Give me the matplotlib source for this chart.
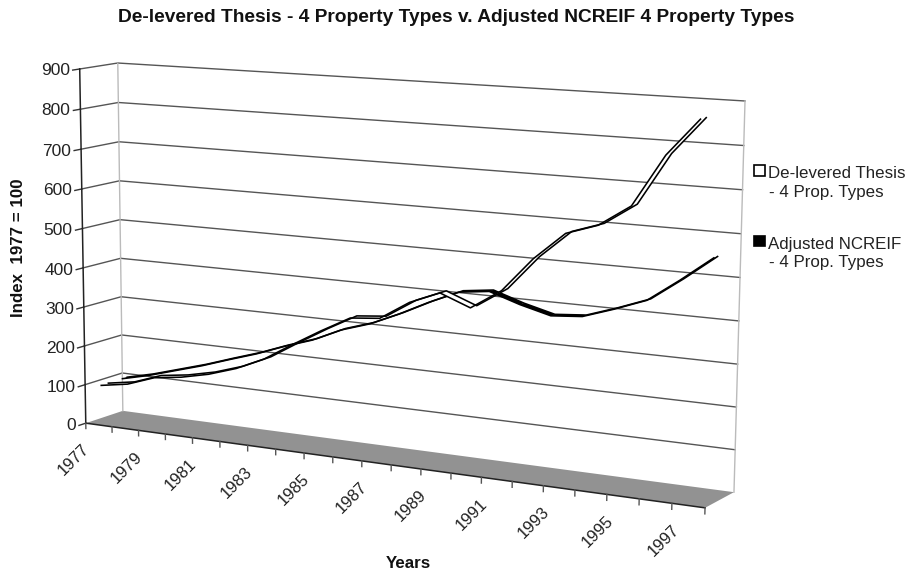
"""
De-levered thesis index v. adjusted NCREIF, drawn as a pseudo 3-D line chart.
"""
import numpy as np
import matplotlib
matplotlib.use('Agg')
import matplotlib.pyplot as plt
from matplotlib.transforms import Transform

plt.rcParams['font.family'] = ['Liberation Sans', 'DejaVu Sans']

YEARS = list(range(1977, 1998))
THESIS = [100, 112, 137, 147, 163, 186, 218, 262, 304, 343, 350, 396, 426, 398, 446, 528, 593, 618, 668, 788, 873]
NCREIF = [100, 117, 138, 159, 183, 206, 233, 257, 290, 313, 345, 381, 413, 422, 398, 379, 385, 410, 438, 492, 550]
Y_TICKS = [0, 100, 200, 300, 400, 500, 600, 700, 800, 900]
X_LABELS = YEARS[::2]
THESIS_DEPTH = (0.08, 0.27)
NCREIF_DEPTH = (0.65, 0.78)

# box corners: (category edge, value, depth) -> pixel
CORNERS = [((0, 0, 0), (86, 423)), ((21, 0, 0), (705, 508)), ((0, 900, 0), (79.5, 69)),
           ((0, 0, 1), (122.6, 411)), ((21, 0, 1), (734, 492)), ((0, 900, 1), (118, 63)),
           ((21, 900, 1), (745, 101))]


def fit_projection(corners):
    rows = []
    for (i, v, d), (px, py) in corners:
        w = [i / 21, v / 900, d, 1]
        rows.append(w + [0, 0, 0, 0] + [-px * c for c in w])
        rows.append([0, 0, 0, 0] + w + [-py * c for c in w])
    return np.linalg.svd(np.array(rows))[2][-1].reshape(3, 4)


PROJ = fit_projection(CORNERS)


class DepthPlane(Transform):
    """(year, value) at a fixed depth -> pixel position."""
    input_dims = output_dims = 2

    def __init__(self, plane_depth):
        super().__init__()
        self.plane_depth = plane_depth

    def transform_non_affine(self, xy):
        xy = np.asarray(xy, dtype=float)
        w = np.column_stack([(xy[:, 0] - 1976.5) / 21, xy[:, 1] / 900,
                             np.full(len(xy), self.plane_depth), np.ones(len(xy))])
        p = w @ PROJ.T
        return p[:, :2] / p[:, 2:]


fig = plt.figure(figsize=(9.11, 5.74), dpi=100)
ax = fig.add_axes([0, 0, 1, 1])
ax.set_xlim(0, 911); ax.set_ylim(574, 0); ax.axis('off')


def plane(depth):
    return DepthPlane(depth) + ax.transData


def to_px(years, values, depth):
    return DepthPlane(depth).transform(np.column_stack([years, values]))


x0, x1 = 1976.5, 1997.5

# floor
floor = np.vstack([to_px([x0, x1], [0, 0], 0), to_px([x1, x0], [0, 0], 1)])
ax.fill(floor[:, 0], floor[:, 1], color='#929292', lw=0, zorder=1)
ax.plot([x0, x1], [0, 0], color='#222222', lw=1.1, transform=plane(0), zorder=2)

# walls and gridlines
for v in Y_TICKS:
    if v > 0:
        ax.plot([x0, x1], [v, v], color='#555555', lw=1.0, transform=plane(1), zorder=1)
    a, b = to_px([x0], [v], 0)[0], to_px([x0], [v], 1)[0]
    if v > 0:
        ax.plot([a[0], b[0]], [a[1], b[1]], color='#555555', lw=1.0, zorder=1)
    t = to_px([x0], [v], -0.18)[0]
    ax.plot([t[0], a[0]], [t[1], a[1]], color='#333333', lw=1.0, zorder=2)
    ax.text(t[0] - 3, t[1] + 0.5, str(v), ha='right', va='center', fontsize=12.5, color='#222222')
ax.plot([x0, x0], [0, 900], color='#222222', lw=1.1, transform=plane(0), zorder=2)
ax.plot([x0, x0], [0, 900], color='#bbbbbb', lw=1.0, transform=plane(1), zorder=1)
ax.plot([x1, x1], [0, 900], color='#bbbbbb', lw=1.0, transform=plane(1), zorder=1)

# category ticks and labels
for k in range(22):
    ax.plot([x0 + k, x0 + k], [0, -14], color='#555555', lw=1.0, transform=plane(0), zorder=2)
for yr in X_LABELS:
    ax.annotate(str(yr), xy=(yr, 0), xycoords=plane(0), xytext=(-25, -35), textcoords='offset pixels',
                rotation=45, ha='center', va='center', fontsize=12, color='#222222')


def ribbon(values, depths, face, zorder):
    front, back = to_px(YEARS, values, depths[0]), to_px(YEARS, values, depths[1])
    for k in range(len(YEARS) - 1):
        quad = np.array([front[k], front[k + 1], back[k + 1], back[k]])
        ax.fill(quad[:, 0], quad[:, 1], facecolor=face, edgecolor='none', zorder=zorder)
    ax.plot(YEARS, values, color='black', lw=1.15, transform=plane(depths[0]), zorder=zorder + 0.1)
    ax.plot(YEARS, values, color='black', lw=1.15, transform=plane(depths[1]), zorder=zorder + 0.1)


ribbon(NCREIF, NCREIF_DEPTH, 'black', 3)
ribbon(THESIS, THESIS_DEPTH, 'white', 4)

# titles
ax.text(456.5, 18, 'De-levered Thesis - 4 Property Types v. Adjusted NCREIF 4 Property Types',
        ha='center', va='center', fontsize=13.8, fontweight='bold', color='#111111')
ax.text(19, 248, 'Index  1977 = 100', rotation=90, ha='center', va='center', fontsize=12.2, fontweight='bold', color='#111111')
ax.text(408, 564, 'Years', ha='center', va='center', fontsize=12.2, fontweight='bold', color='#111111')

# legend
ax.add_patch(plt.Rectangle((754, 165), 11, 11, facecolor='white', edgecolor='black', lw=1.2))
ax.add_patch(plt.Rectangle((754, 236), 11, 10, facecolor='black', edgecolor='black', lw=1.2))
for x, y, s in [(768, 173, 'De-levered Thesis'), (769, 193, '- 4 Prop. Types'),
                (768, 244, 'Adjusted NCREIF'), (769, 263, '- 4 Prop. Types')]:
    ax.text(x, y, s, ha='left', va='center', fontsize=12.2, color='#222222')

fig.savefig('out.png', dpi=100)
plt.close(fig)
